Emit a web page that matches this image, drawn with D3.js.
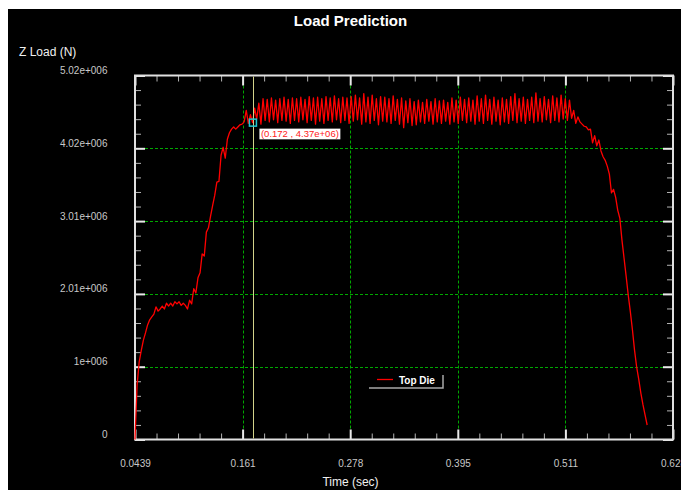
<!DOCTYPE html>
<html>
<head>
<meta charset="utf-8">
<script src="https://cdn.jsdelivr.net/npm/d3@7"></script>
<style>
body { margin: 0; background: #fff; }
svg { display: block; }
text { font-family: "Liberation Sans", Arial, sans-serif; }
</style>
</head>
<body>
<svg id="chart"></svg>
<script>
// sampled every dt seconds from t0, load in MN
const t0 = 0.0439, dt = 0.00228;
const riseLoad = [
    0, 0.75, 1.07, 1.23, 1.37, 1.47, 1.58, 1.65, 1.69, 1.73,
    1.83, 1.77, 1.80, 1.84, 1.80, 1.88, 1.84, 1.88, 1.84, 1.90,
    1.87, 1.90, 1.85, 1.88, 1.85, 1.80, 1.92, 1.87, 2.08, 2.02,
    2.23, 2.30, 2.56, 2.53, 2.86, 2.92, 3.08, 3.23, 3.37, 3.55,
    3.56, 3.92, 4.03, 3.88, 4.14, 4.23, 4.28, 4.31, 4.28, 4.31,
    4.34, 4.35, 4.38, 4.54, 4.36, 4.48, 4.37, 4.57, 4.42, 4.64,
    4.35
];
const plateauPeaks = [
    4.70, 4.69, 4.71, 4.68, 4.70, 4.72, 4.69, 4.71, 4.70, 4.72,
    4.69, 4.73, 4.71, 4.72, 4.70, 4.73, 4.71, 4.74, 4.70, 4.72,
    4.71, 4.73, 4.75, 4.71, 4.77, 4.72, 4.75, 4.70, 4.73, 4.72,
    4.70, 4.74, 4.69, 4.71, 4.67, 4.70, 4.66, 4.68, 4.65, 4.69,
    4.66, 4.70, 4.67, 4.68, 4.65, 4.71, 4.68, 4.72, 4.69, 4.71,
    4.68, 4.74, 4.70, 4.75, 4.69, 4.72, 4.68, 4.71, 4.69, 4.73,
    4.77, 4.70, 4.72, 4.69, 4.72, 4.78, 4.70, 4.73, 4.69, 4.74,
    4.71, 4.75, 4.70, 4.68
];
const plateauTroughs = [
    4.40, 4.38, 4.41, 4.37, 4.40, 4.39, 4.36, 4.40, 4.38, 4.41,
    4.37, 4.40, 4.35, 4.39, 4.36, 4.40, 4.38, 4.41, 4.37, 4.40,
    4.36, 4.39, 4.41, 4.35, 4.38, 4.36, 4.40, 4.34, 4.39, 4.38,
    4.36, 4.40, 4.35, 4.30, 4.37, 4.33, 4.34, 4.38, 4.36, 4.39,
    4.35, 4.38, 4.36, 4.39, 4.35, 4.38, 4.36, 4.40, 4.37, 4.39,
    4.35, 4.39, 4.36, 4.40, 4.35, 4.39, 4.34, 4.38, 4.36, 4.40,
    4.37, 4.39, 4.36, 4.40, 4.37, 4.39, 4.38, 4.41, 4.37, 4.40,
    4.38, 4.42, 4.40, 4.43
];
const fallLoad = [
    4.54, 4.36, 4.45, 4.38, 4.35, 4.32, 4.31, 4.27, 4.28, 4.09,
    4.19, 4.05, 4.13, 3.98, 3.90, 3.85, 3.77, 3.66, 3.40, 3.45,
    3.34, 3.16, 3.05, 2.75, 2.50, 2.25, 1.99, 1.76, 1.51, 1.23,
    1.00, 0.83, 0.64, 0.48, 0.34, 0.20
];

const xDomain = [0.0439, 0.6283];
const yDomain = [0, 5.02e6];
const xTickLabels = ["0.0439", "0.161", "0.278", "0.395", "0.511", "0.628"];
const yTickLabels = ["0", "1e+006", "2.01e+006", "3.01e+006", "4.02e+006", "5.02e+006"];

const cursorTime = 0.172, cursorLoad = 4.37e6;
const cursorText = "(0.172 , 4.37e+06)";
const seriesName = "Top Die";

const W = 681, H = 490;
const plot = { left: 135, right: 673, top: 75.5, bottom: 439.5 };

const svg = d3.select("#chart").attr("width", W).attr("height", H);

svg.append("rect").attr("x", 8).attr("y", 9).attr("width", W - 8).attr("height", H - 9).attr("fill", "#000");

let loads = riseLoad.slice();
plateauPeaks.forEach((p, k) => { loads.push(p, plateauTroughs[k]); });
loads = loads.concat(fallLoad);
const data = loads.map((v, i) => ({ t: t0 + i * dt, load: v * 1e6 }));

const x = d3.scaleLinear().domain(xDomain).range([plot.left, plot.right]);
const y = d3.scaleLinear().domain(yDomain).range([plot.bottom, plot.top]);

const xMajor = d3.range(6).map(i => xDomain[0] + i * (xDomain[1] - xDomain[0]) / 5);
const xMinor = d3.range(26).filter(i => i % 5).map(i => xDomain[0] + i * (xDomain[1] - xDomain[0]) / 25);
const yMajor = d3.range(6).map(i => yDomain[0] + i * (yDomain[1] - yDomain[0]) / 5);
const yMinor = d3.range(26).filter(i => i % 5).map(i => yDomain[0] + i * (yDomain[1] - yDomain[0]) / 25);

// grid
const grid = svg.append("g").attr("stroke", "#00a800").attr("stroke-width", 1).attr("stroke-dasharray", "3,2");
grid.selectAll(".gx").data(xMajor.slice(1, 5)).enter().append("line")
    .attr("x1", d => Math.round(x(d)) + 0.5).attr("x2", d => Math.round(x(d)) + 0.5)
    .attr("y1", plot.top + 10).attr("y2", plot.bottom - 10);
grid.selectAll(".gy").data(yMajor.slice(1, 5)).enter().append("line")
    .attr("y1", d => Math.round(y(d)) + 0.5).attr("y2", d => Math.round(y(d)) + 0.5)
    .attr("x1", plot.left + 10).attr("x2", plot.right - 10);

// ticks on all four sides, pointing inward
function tickAxis(axis, tx, ty, values, size, color, width, fmt) {
    const g = svg.append("g")
        .attr("transform", `translate(${tx},${ty})`)
        .call(axis.tickValues(values).tickSize(-size).tickPadding(0).tickFormat(fmt || ""));
    g.select(".domain").remove();
    g.selectAll(".tick line").attr("stroke", color).attr("stroke-width", width);
    return g;
}
tickAxis(d3.axisBottom(x), 0, plot.bottom, xMinor, 6, "#b4b4b4", 1);
tickAxis(d3.axisTop(x), 0, plot.top, xMinor, 6, "#b4b4b4", 1);
tickAxis(d3.axisLeft(y), plot.left, 0, yMinor, 6, "#b4b4b4", 1);
tickAxis(d3.axisRight(y), plot.right, 0, yMinor, 6, "#b4b4b4", 1);
tickAxis(d3.axisTop(x), 0, plot.top, xMajor, 10, "#e8e8e8", 2);
tickAxis(d3.axisRight(y), plot.right, 0, yMajor, 10, "#e8e8e8", 2);

const xAxisG = tickAxis(d3.axisBottom(x), 0, plot.bottom, xMajor, 10, "#e8e8e8", 2, (d, i) => xTickLabels[i]);
xAxisG.call(g => g.selectAll(".tick text").attr("y", 27).attr("dy", 0)
    .attr("fill", "#c8c8c8").attr("font-size", 10).attr("font-family", "Liberation Sans, Arial, sans-serif"));

const yAxisG = tickAxis(d3.axisLeft(y), plot.left, 0, yMajor, 10, "#e8e8e8", 2, (d, i) => yTickLabels[i]);
yAxisG.call(g => g.selectAll(".tick text").attr("x", -27.5).attr("dy", -2)
    .attr("fill", "#c8c8c8").attr("font-size", 10).attr("font-family", "Liberation Sans, Arial, sans-serif"));

// frame
svg.append("rect")
    .attr("x", plot.left).attr("y", plot.top)
    .attr("width", plot.right - plot.left).attr("height", plot.bottom - plot.top)
    .attr("fill", "none").attr("stroke", "#e0e0e0").attr("stroke-width", 2);

// series
const line = d3.line().x(d => x(d.t)).y(d => y(d.load));
svg.append("path").datum(data)
    .attr("fill", "none").attr("stroke", "#ff0000").attr("stroke-width", 1.3)
    .attr("stroke-linejoin", "round")
    .attr("d", line);

// cursor
const cx = Math.round(x(cursorTime)) + 0.5;
svg.append("line")
    .attr("x1", cx).attr("x2", cx).attr("y1", plot.top + 1).attr("y2", plot.bottom - 1)
    .attr("stroke", "#d2d28a").attr("stroke-width", 1);
svg.append("rect")
    .attr("x", x(cursorTime) - 3.5).attr("y", y(cursorLoad) - 3.5)
    .attr("width", 7).attr("height", 7)
    .attr("fill", "none").attr("stroke", "#20c8d0").attr("stroke-width", 1.5);
const lbl = svg.append("g").attr("transform", `translate(${x(cursorTime) + 6.5},${y(cursorLoad) + 6})`);
const lblBox = lbl.append("rect").attr("fill", "#fff");
const lblText = lbl.append("text")
    .attr("x", 1.5).attr("y", 8.8)
    .attr("font-size", 9.5).attr("fill", "#ff2020")
    .text(cursorText);
const bb = lblText.node().getBBox();
lblBox.attr("x", 0).attr("y", 0).attr("width", bb.width + 3).attr("height", 10.7);

// legend
const leg = svg.append("g").attr("transform", "translate(369,375)");
leg.append("line").attr("x1", 8).attr("x2", 24).attr("y1", 4.5).attr("y2", 4.5)
    .attr("stroke", "#ff0000").attr("stroke-width", 1.3);
leg.append("text").attr("x", 30).attr("y", 8.5)
    .attr("font-size", 10).attr("font-weight", "bold").attr("fill", "#fff")
    .text(seriesName);
leg.append("path").attr("d", "M0,13 H74 V0")
    .attr("fill", "none").attr("stroke", "#a8a8a8").attr("stroke-width", 1.5);

// titles
svg.append("text").attr("x", 350.5).attr("y", 25.5).attr("text-anchor", "middle")
    .attr("font-size", 15).attr("font-weight", "bold").attr("fill", "#fff")
    .text("Load Prediction");
svg.append("text").attr("x", 19).attr("y", 55.5)
    .attr("font-size", 12).attr("fill", "#f0f0f0")
    .text("Z Load (N)");
svg.append("text").attr("x", 350.5).attr("y", 486).attr("text-anchor", "middle")
    .attr("font-size", 12).attr("fill", "#f0f0f0")
    .text("Time (sec)");
</script>
</body>
</html>
